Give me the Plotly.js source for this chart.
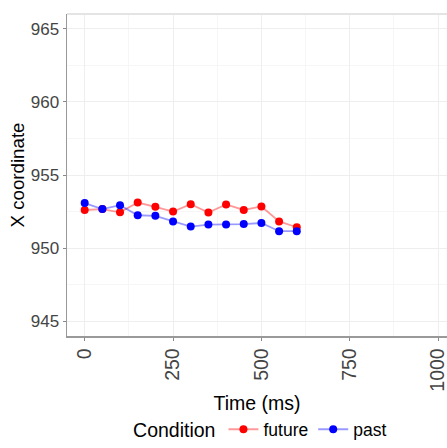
<!DOCTYPE html>
<html>
<head>
<meta charset="utf-8">
<script src="https://cdn.plot.ly/plotly-3.0.1.min.js"></script>
<style>
html, body { margin:0; padding:0; overflow:hidden; background:#fff; }
#chart { width:447px; height:448px; }
</style>
</head>
<body>
<div id="chart"></div>
<script>
// Data
const timeMs = [0, 50, 100, 150, 200, 250, 300, 350, 400, 450, 500, 550, 600];
const futureX = [952.61, 952.67, 952.45, 953.12, 952.83, 952.50, 953.01, 952.43, 952.99, 952.61, 952.85, 951.83, 951.43];
const pastX   = [953.08, 952.67, 952.94, 952.25, 952.21, 951.83, 951.48, 951.61, 951.61, 951.65, 951.72, 951.16, 951.16];
const xTicks = [0, 250, 500, 750, 1000];
const yTicks = [945, 950, 955, 960, 965];
const seriesNames = ["future", "past"];

const traces = [
  {
    x: timeMs, y: futureX, name: seriesNames[0], type: "scatter", mode: "lines+markers",
    line: { color: "rgba(255,0,0,0.4)", width: 1.8 },
    marker: { color: "#ff0000", size: 8 }
  },
  {
    x: timeMs, y: pastX, name: seriesNames[1], type: "scatter", mode: "lines+markers",
    line: { color: "rgba(0,0,255,0.4)", width: 1.8 },
    marker: { color: "#0000ff", size: 8 }
  }
];

const layout = {
  width: 447, height: 448,
  margin: { l: 67, r: 0, t: 14, b: 105 },
  paper_bgcolor: "#ffffff", plot_bgcolor: "#ffffff",
  font: { family: "Liberation Sans, Arial, sans-serif", color: "#000" },
  showlegend: true,
  legend: {
    orientation: "h", x: 0.512, xanchor: "center", y: -0.29, yanchor: "middle",
    title: { text: "Condition", side: "left", font: { size: 19.5, color: "#000" } },
    font: { size: 17.5, color: "#000" },
    itemwidth: 30, tracegroupgap: 0
  },
  xaxis: {
    range: [-50, 1025], tickvals: xTicks, ticktext: xTicks.map(String),
    tickangle: -90, tickfont: { size: 19.5, color: "#444" },
    ticklabeloverflow: "allow",
    ticks: "outside", ticklen: 3, tickcolor: "#888", tickwidth: 1,
    showline: true, linecolor: "#999", linewidth: 1.5,
    showgrid: true, gridcolor: "#eeeeee", gridwidth: 1,
    minor: { tickvals: [125, 375, 625, 875], showgrid: true, gridcolor: "#f6f6f6", gridwidth: 1 },
    zeroline: false, automargin: false,
    title: { text: "Time (ms)", font: { size: 19.5, color: "#000" }, standoff: 5 }
  },
  yaxis: {
    range: [944, 966], tickvals: yTicks, ticktext: yTicks.map(String),
    tickfont: { size: 17, color: "#444" },
    ticks: "outside", ticklen: 3, tickcolor: "#888", tickwidth: 1,
    showline: true, linecolor: "#999", linewidth: 1.5,
    showgrid: true, gridcolor: "#eeeeee", gridwidth: 1,
    minor: { tickvals: [947.5, 952.5, 957.5, 962.5], showgrid: true, gridcolor: "#f6f6f6", gridwidth: 1 },
    zeroline: false, automargin: false,
    title: { text: "X coordinate", font: { size: 18.7, color: "#000" }, standoff: 1 }
  },
  shapes: [
    { type: "line", xref: "paper", yref: "paper", x0: 0, x1: 1, y0: 1, y1: 1,
      line: { color: "#e4e4e4", width: 2 }, layer: "above" }
  ]
};

Plotly.newPlot("chart", traces, layout, { staticPlot: true, displayModeBar: false });
</script>
</body>
</html>
